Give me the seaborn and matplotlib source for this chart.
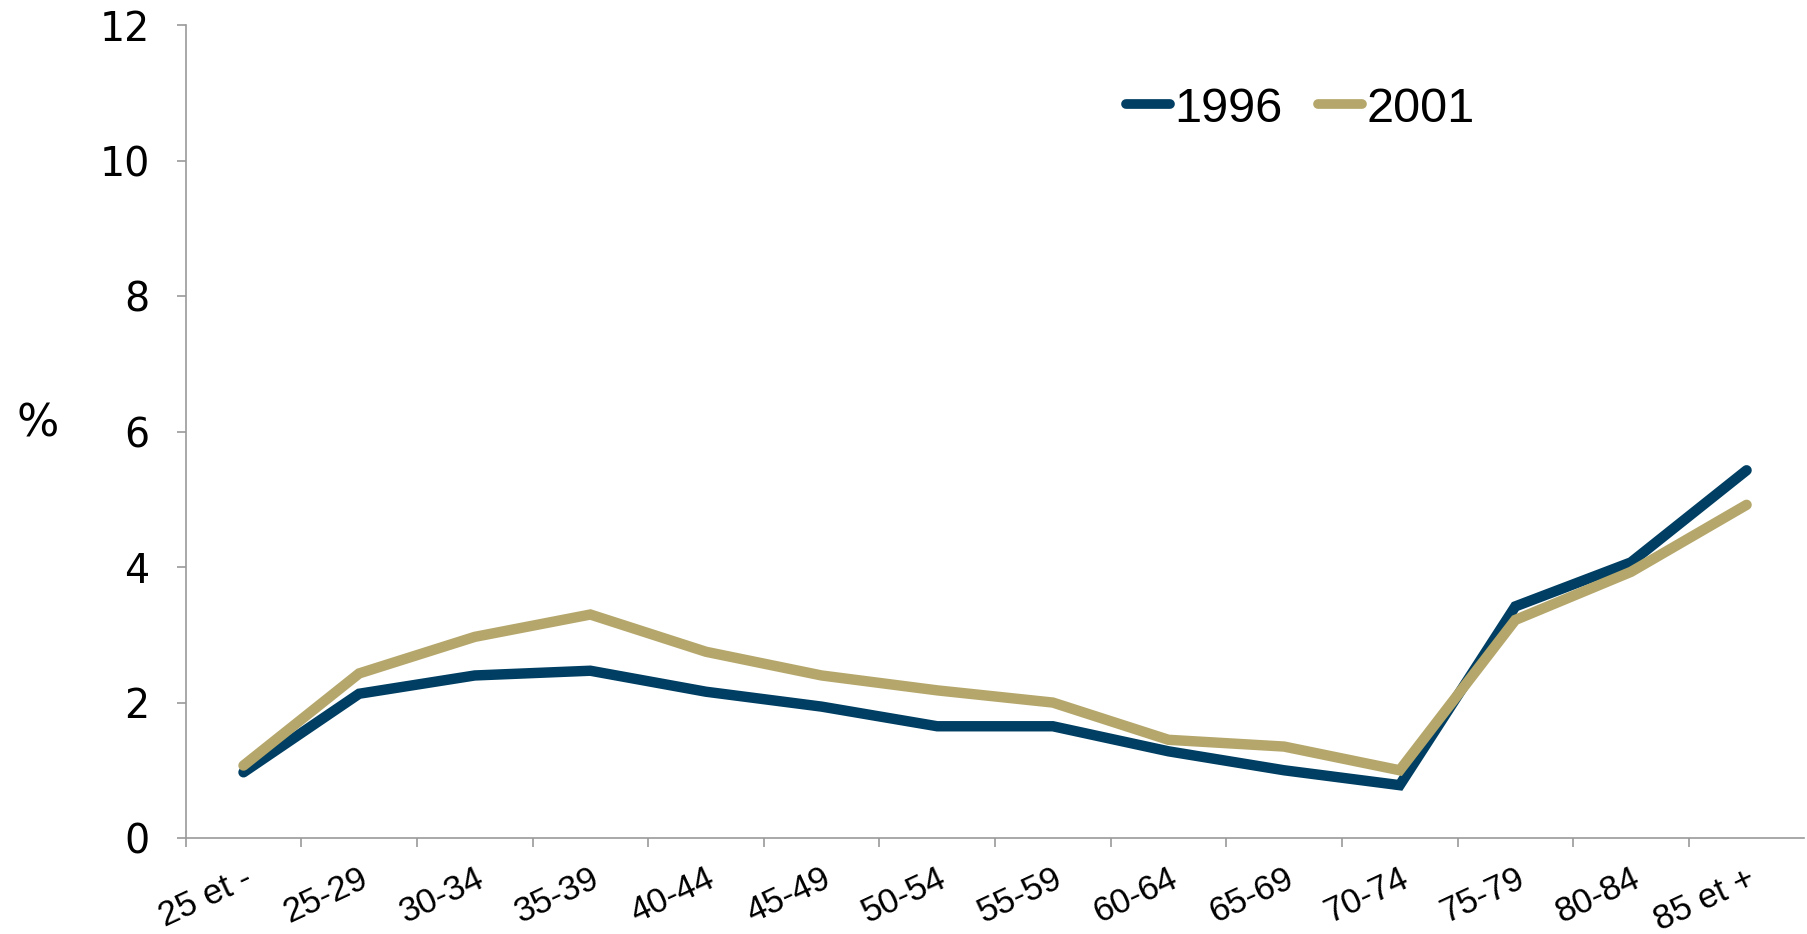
import numpy as np
import pandas as pd
import matplotlib
matplotlib.use("Agg")
import matplotlib.pyplot as plt
import seaborn as sns

# ---------------------------
# data
# ---------------------------
age_groups = ["25 et -", "25-29", "30-34", "35-39", "40-44", "45-49", "50-54",
              "55-59", "60-64", "65-69", "70-74", "75-79", "80-84", "85 et +"]
y1996 = [0.97, 2.13, 2.40, 2.47, 2.16, 1.94, 1.65, 1.65, 1.28, 1.00, 0.78, 3.42, 4.07, 5.43]
y2001 = [1.07, 2.43, 2.97, 3.30, 2.75, 2.40, 2.18, 2.00, 1.45, 1.35, 1.00, 3.22, 3.93, 4.92]
years = ["1996", "2001"]
colors = {"1996": "#003f63", "2001": "#b5a76b"}

df = pd.DataFrame({
    "age": age_groups * 2,
    "pos": list(range(len(age_groups))) * 2,
    "val": y1996 + y2001,
    "year": ["1996"] * len(age_groups) + ["2001"] * len(age_groups),
})

sns.set_style("white")
plt.rcParams["font.family"] = ["Liberation Sans", "DejaVu Sans"]
plt.rcParams["text.color"] = "black"

fig = plt.figure(figsize=(18.08, 9.34), dpi=100)
ax = fig.add_axes([0.1027, 0.1028, 0.8953, 0.8700])

sns.lineplot(data=df, x="pos", y="val", hue="year", hue_order=years,
             palette=colors, linewidth=7.5, ax=ax, sort=False,
             solid_capstyle="round", solid_joinstyle="miter")

axis_grey = "#9a9a9a"

ax.set_xlim(-0.5, len(age_groups) - 0.5)
ax.set_ylim(0, 12)
ax.set_yticks([0, 2, 4, 6, 8, 10, 12])
ax.tick_params(axis="y", left=True, labelsize=28.5, length=6.5, width=1.2,
               color=axis_grey, labelcolor="black", pad=19.5)
for lab in ax.get_yticklabels():
    lab.set_fontfamily("DejaVu Sans")

# labels at category centres, ticks at boundaries
ax.set_xticks(np.arange(len(age_groups)))
ax.set_xticklabels(age_groups, rotation=25, ha="right", rotation_mode="anchor", fontsize=25)
ax.tick_params(axis="x", which="major", bottom=True, length=0, pad=17, labelcolor="black")
ax.set_xticks(np.arange(len(age_groups)) - 0.5, minor=True)
ax.tick_params(axis="x", which="minor", bottom=True, length=6.5, width=1.2, color=axis_grey)

sns.despine(ax=ax)
for s in ["left", "bottom"]:
    ax.spines[s].set_color(axis_grey)
    ax.spines[s].set_linewidth(1.2)

ax.set_xlabel("")
ax.set_ylabel("%", rotation=0, fontsize=32, fontfamily="DejaVu Sans", va="center",
              ha="center", color="black")
ax.yaxis.set_label_coords(-0.0912, 0.509)

leg = ax.legend(loc="center left", bbox_to_anchor=(1126 / 1808, 1 - 109 / 934),
                bbox_transform=fig.transFigure, ncol=2, frameon=False,
                fontsize=35, handlelength=0.9, handletextpad=0.1, columnspacing=0.72,
                borderpad=0, borderaxespad=0)
for h in leg.get_lines():
    h.set_linewidth(7)
    h.set_solid_capstyle("round")
for t in leg.get_texts():
    t.set_color("black")

fig.savefig("out.png", dpi=100)
